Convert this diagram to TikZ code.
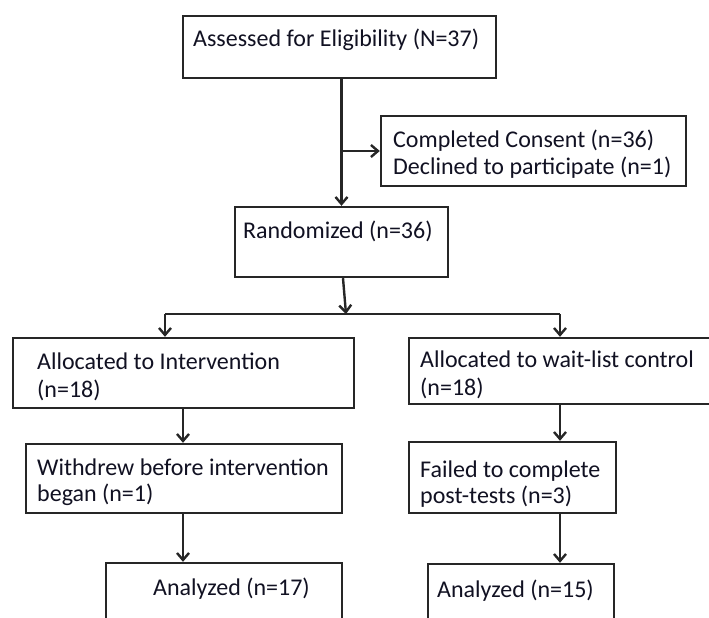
\documentclass[tikz,border=0pt]{standalone}
\usepackage{fontspec}
\setmainfont{Carlito}
\usetikzlibrary{arrows.meta}
\definecolor{boxline}{HTML}{262626}
\definecolor{txtcol}{HTML}{111122}
\tikzset{
  box/.style={draw=boxline, line width=2.4pt, fill=white, rectangle, inner sep=0pt},
  txt/.style={anchor=base west, inner sep=0pt, text=txtcol, font=\fontsize{24}{27}\selectfont},
  arr/.style={draw=boxline, line width=2.4pt, -{Straight Barb[length=7pt,width=12pt,line width=2.4pt]}},
  ln/.style={draw=boxline, line width=2.4pt}
}
\begin{document}
\begin{tikzpicture}[x=1pt,y=-1pt]
\useasboundingbox (0,0) rectangle (709,618);
\clip (0,0) rectangle (709,618);
% boxes
\node[box, minimum width=313pt, minimum height=62pt] (A) at (339.5,47) {};
\node[box, minimum width=305pt, minimum height=70pt] (C) at (533.5,151) {};
\node[box, minimum width=213pt, minimum height=70pt] (R) at (341.5,242) {};
\node[box, minimum width=341pt, minimum height=70pt] (L1) at (183.5,373) {};
\node[box, minimum width=320pt, minimum height=66pt] (R1) at (569,371) {};
\node[box, minimum width=316pt, minimum height=69pt] (L2) at (184,478.5) {};
\node[box, minimum width=207pt, minimum height=71pt] (R2) at (512.5,477.5) {};
\node[box, minimum width=236pt, minimum height=80pt] (L3) at (224,603) {};
\node[box, minimum width=186pt, minimum height=80pt] (R3) at (521,604) {};
% texts
\node[txt] (tA) at (193,47) {Assessed for Eligibility (N=37)};
\node[txt] (tC1) at (393,147) {Completed Consent (n=36)};
\node[txt] (tC2) at (393,174) {Declined to participate (n=1)};
\node[txt] (tR) at (243,238) {Randomized (n=36)};
\node[txt] (tL1a) at (37,369) {Allocated to Intervention};
\node[txt] (tL1b) at (37,397) {(n=18)};
\node[txt] (tR1a) at (420,367) {Allocated to wait-list control};
\node[txt] (tR1b) at (420,395) {(n=18)};
\node[txt] (tL2a) at (37,475) {Withdrew before intervention};
\node[txt] (tL2b) at (37,501) {began (n=1)};
\node[txt] (tR2a) at (420,477) {Failed to complete};
\node[txt] (tR2b) at (420,503) {post-tests (n=3)};
\node[txt] (tL3) at (153,595) {Analyzed (n=17)};
\node[txt] (tR3) at (437,597) {Analyzed (n=15)};
% connectors
\coordinate (split) at (346,314);
\coordinate (sl) at (165,314);
\coordinate (sr) at (560,314);
\coordinate (lx) at (183,0);
\coordinate (rx) at (560,0);
\draw[arr] (A.south -| R.north) -- (R.north);
\draw[arr] (C.west -| R.north) -- (C.west);
\draw[arr] ([xshift=1.5pt]R.south) -- (split);
\draw[ln] (sl) -- (sr);
\draw[arr] (sl) -- (sl |- L1.north);
\draw[arr] (sr) -- (sr |- R1.north);
\draw[arr] (L1.south -| lx) -- (L2.north -| lx);
\draw[arr] (L2.south -| lx) -- (L3.north -| lx);
\draw[arr] (R1.south -| rx) -- (R2.north -| rx);
\draw[arr] (R2.south -| rx) -- (R3.north -| rx);
\end{tikzpicture}
\end{document}
